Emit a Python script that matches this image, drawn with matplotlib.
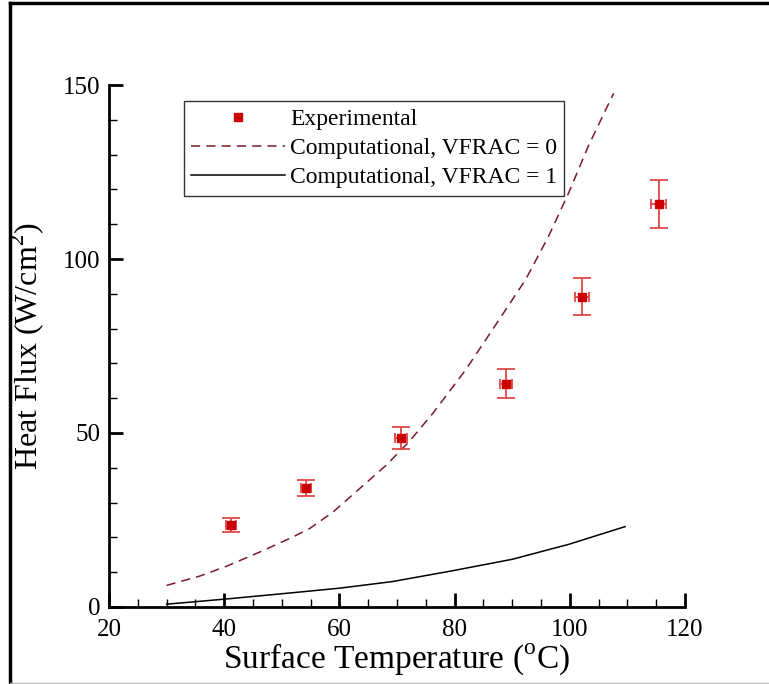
import numpy as np
import matplotlib
matplotlib.use('Agg')
import matplotlib.pyplot as plt
from matplotlib.lines import Line2D
from matplotlib.ticker import MultipleLocator

plt.rcParams['font.family'] = ['Liberation Serif', 'DejaVu Serif']
plt.rcParams['mathtext.fontset'] = 'custom'
plt.rcParams['mathtext.rm'] = 'Liberation Serif'

# experimental points
exp_T = [41.2, 54.2, 70.7, 88.9, 102.1, 115.4]
exp_q = [23.6, 34.3, 48.6, 64.2, 89.2, 115.9]
exp_qerr = [2.0, 2.3, 3.1, 4.1, 5.4, 6.9]
exp_Terr = [0.8, 0.9, 1.0, 1.0, 1.2, 1.3]

# computational, VFRAC = 0
v0_T = [30.0, 35.8, 40.4, 46.2, 51.9, 54.8, 58.9, 63.5, 68.1, 70.4, 72.1, 76.2,
        81.9, 87.7, 92.3, 96.3, 99.8, 103.2, 107.6]
v0_q = [6.2, 8.9, 11.7, 15.8, 20.1, 22.5, 27.3, 34.0, 40.7, 44.6, 47.5, 55.6,
        68.1, 82.5, 94.0, 106.5, 119.0, 132.4, 147.6]

# computational, VFRAC = 1
v1_T = [30.0, 40.4, 51.9, 60.0, 69.2, 79.6, 90.0, 99.8, 109.6]
v1_q = [0.8, 2.3, 4.1, 5.4, 7.3, 10.4, 13.7, 18.0, 23.1]

fig = plt.figure(figsize=(7.69, 6.84), dpi=100)
ax = fig.add_axes([0.1417, 0.1126, 0.7491, 0.7631])

red = '#cc0000'
ax.errorbar(exp_T, exp_q, yerr=exp_qerr, fmt='none', ecolor='#e04848',
            elinewidth=1.3, capsize=6.5, capthick=1.3, zorder=3)
ax.errorbar(exp_T, exp_q, xerr=exp_Terr, fmt='none', ecolor='#e04848',
            elinewidth=1.3, capsize=3.5, capthick=1.3, zorder=3)
ax.plot(exp_T, exp_q, 's', color=red, ms=6, zorder=4)
ax.plot(v0_T, v0_q, '--', color='#7a1a2a', lw=1.1, dashes=(6, 4))
ax.plot(v1_T, v1_q, '-', color='black', lw=1.1)

ax.set_xlim(20, 120)
ax.set_ylim(0, 150)
ax.xaxis.set_major_locator(MultipleLocator(20))
ax.xaxis.set_minor_locator(MultipleLocator(5))
ax.yaxis.set_major_locator(MultipleLocator(50))
ax.yaxis.set_minor_locator(MultipleLocator(10))

for s in ['top', 'right']:
    ax.spines[s].set_visible(False)
for s in ['left', 'bottom']:
    ax.spines[s].set_linewidth(2)

ax.tick_params(which='major', direction='in', length=10, width=2, labelsize=18, pad=6)
ax.tick_params(axis='x', which='major', pad=9)
ax.tick_params(which='minor', direction='in', length=6, width=1)

ax.set_xlabel(r'Surface Temperature ($^{\mathrm{o}}$C)', fontsize=24, labelpad=0)
ax.set_ylabel(r'Heat Flux (W/cm$^{2}$)', fontsize=23, labelpad=12)

handles = [Line2D([], [], ls='none', marker='s', ms=6, color=red),
           Line2D([], [], ls='--', dashes=(6, 4), color='#7a1a2a', lw=1.1),
           Line2D([], [], ls='-', color='black', lw=1.1)]
labels = ['Experimental', 'Computational, VFRAC = 0', 'Computational, VFRAC = 1']
leg = ax.legend(handles, labels, loc='upper left', bbox_to_anchor=(0.130, 0.969),
                borderaxespad=0, fontsize=17, frameon=True, fancybox=False,
                edgecolor='black', handlelength=4.0, handletextpad=0.2,
                labelspacing=0.33, borderpad=0.3)
leg.get_frame().set_linewidth(1)

# outer frame of the figure
fig.add_artist(Line2D([0.013, 0.013], [0, 0.996], color='black', lw=2.5, transform=fig.transFigure))
fig.add_artist(Line2D([0.013, 1], [0.996, 0.996], color='black', lw=2.5, transform=fig.transFigure))
fig.add_artist(Line2D([0.013, 1], [0.001, 0.001], color='#bbbbbb', lw=1, transform=fig.transFigure))

fig.savefig('out.png', dpi=100)
